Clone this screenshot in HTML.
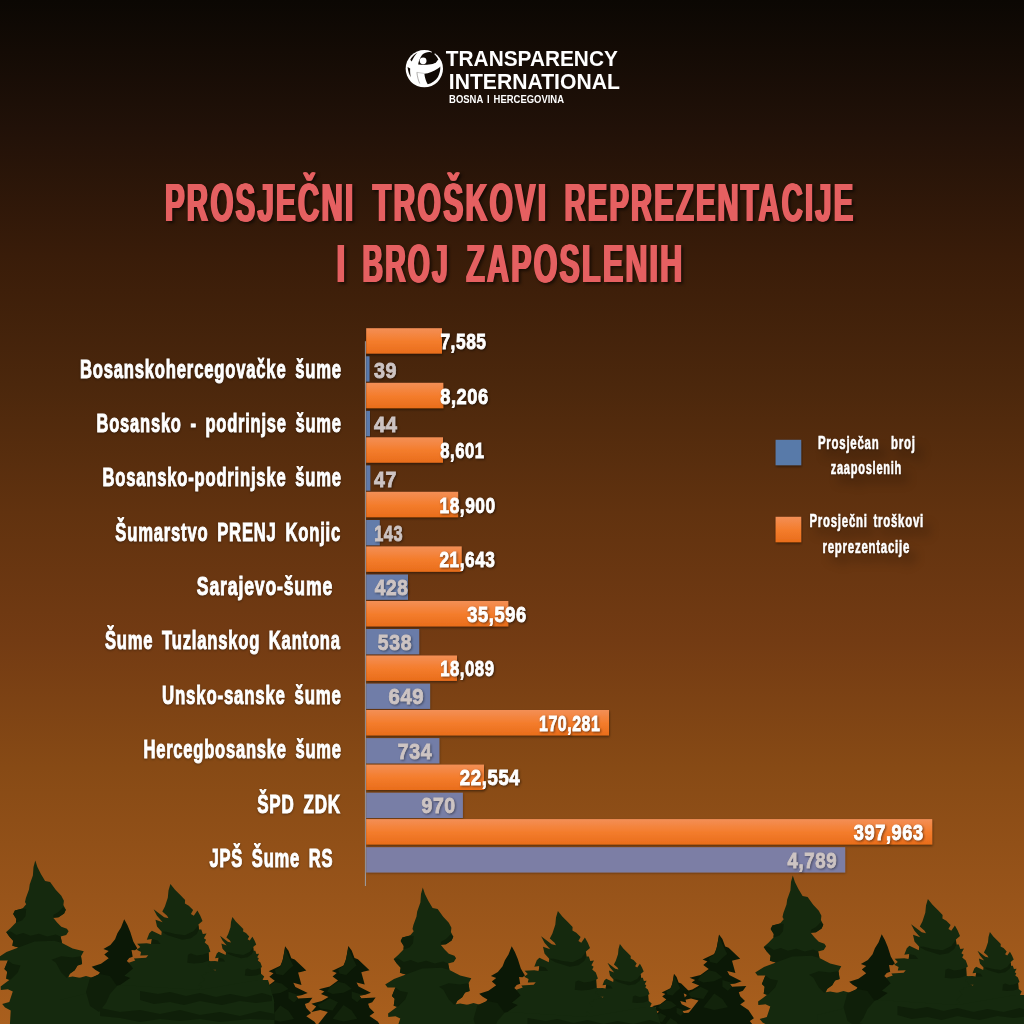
<!DOCTYPE html>
<html lang="bs">
<head>
<meta charset="utf-8">
<title>Prosječni troškovi reprezentacije i broj zaposlenih</title>
<style>
html,body{margin:0;padding:0;background:#0b0703;}
body{width:1024px;height:1024px;overflow:hidden;}
svg{display:block;}
text{font-family:"Liberation Sans",sans-serif;font-weight:bold;white-space:pre;}
.lab{fill:#fff;stroke:#fff;stroke-width:1px;word-spacing:5px;letter-spacing:1.2px;filter:drop-shadow(0.5px 1px 1px rgba(0,0,0,.35));}
.val{fill:#fff;stroke:#fff;stroke-width:.9px;letter-spacing:.7px;filter:drop-shadow(1px 1.5px 1.2px rgba(0,0,0,.5));}
.gval{fill:#cdc4c3;stroke:#cdc4c3;stroke-width:.9px;letter-spacing:.7px;filter:drop-shadow(1px 1.5px 1.2px rgba(0,0,0,.4));}
.leg{fill:#fff;stroke:#fff;stroke-width:.6px;letter-spacing:1.2px;word-spacing:3px;filter:drop-shadow(0.5px 1px 1px rgba(0,0,0,.3)) drop-shadow(7px 9px 5px rgba(0,0,0,.22));}
.title{--c:#e56061;--sh:drop-shadow(2px 2px 1.5px rgba(0,0,0,.55));letter-spacing:4px;fill:var(--c);filter:drop-shadow(1px 0 0 var(--c)) drop-shadow(-1px 0 0 var(--c)) var(--sh);}
.logo{fill:#fff;stroke-width:0;}
.logo2{fill:#fff;stroke-width:0;word-spacing:1.5px;}
</style>
</head>
<body>
<svg width="1024" height="1024" viewBox="0 0 1024 1024">
<defs>
<linearGradient id="bg" x1="0" y1="0" x2="0" y2="1">
<stop offset="0" stop-color="#0b0703"/>
<stop offset="0.125" stop-color="#211108"/>
<stop offset="0.25" stop-color="#391c09"/>
<stop offset="0.375" stop-color="#4b270c"/>
<stop offset="0.5" stop-color="#61320f"/>
<stop offset="0.625" stop-color="#733b13"/>
<stop offset="0.75" stop-color="#874a15"/>
<stop offset="0.875" stop-color="#98541a"/>
<stop offset="1" stop-color="#a95f1d"/>
</linearGradient>
<linearGradient id="og" x1="0" y1="0" x2="0" y2="1">
<stop offset="0" stop-color="#f38f56"/>
<stop offset="0.5" stop-color="#f47d2d"/>
<stop offset="1" stop-color="#e96d1b"/>
</linearGradient>
<filter id="bsh" x="-5%" y="-30%" width="110%" height="180%"><feDropShadow dx="0.5" dy="1.5" stdDeviation="1.2" flood-color="#000" flood-opacity="0.45"/></filter>
<filter id="bsh2" x="-5%" y="-30%" width="110%" height="180%"><feDropShadow dx="0.5" dy="1" stdDeviation="1" flood-color="#000" flood-opacity="0.3"/></filter>
</defs>
<rect width="1024" height="1024" fill="url(#bg)"/>
<!-- trees -->
<g id="trees">
<polygon fill="#0b1806" points="285.1,946.3 288.5,950.7 291.3,958.2 294.7,959.6 306.3,970.5 300.8,971.9 298.1,972.6 301.5,984.9 293.3,982.8 295.4,986.9 307.7,993.1 302.2,995.1 296.0,995.8 298.1,998.5 312.4,997.8 309.0,1002.6 304.9,1004.0 306.3,1008.1 311.1,1012.9 306.3,1016.3 314.5,1021.8 320.0,1030.0 315.9,1032.7 324.1,1043.6 324.1,1084.7 247.5,1084.7 247.5,1043.6 254.3,1032.7 250.2,1030.0 257.1,1021.8 264.6,1012.2 257.1,1010.2 248.2,1012.2 253.0,1006.7 248.2,1004.0 258.4,1001.3 265.3,997.2 257.8,994.4 261.2,991.7 255.7,989.6 266.6,986.9 274.8,980.8 269.4,976.7 273.5,973.2 268.7,971.2 280.3,965.7 282.4,961.6 283.7,954.8"/>
<polygon fill="#12230b" points="285.1,947.9 288.5,956.1 293.3,965.7 288.5,969.8 283.0,975.3 276.2,973.9 274.8,969.8 280.3,966.4 283.0,958.9"/>
<polygon fill="#12230b" points="274.8,982.1 281.7,983.5 288.5,989.0 280.3,993.1 269.4,994.4 263.9,991.7 266.6,987.6"/>
<polygon fill="#12230b" points="288.5,991.7 296.7,994.4 302.2,995.1 296.0,996.1 298.1,998.5 294.0,1002.6 288.5,998.5"/>
<polygon fill="#12230b" points="266.6,998.5 274.8,1002.6 269.4,1010.8 257.1,1008.8 254.3,1005.4"/>
<polygon fill="#12230b" points="280.3,1005.4 288.5,1010.8 294.0,1019.0 280.3,1021.8 269.4,1019.0"/>
<polygon fill="#0b1806" points="348.3,946.0 351.7,950.4 354.5,957.9 357.9,959.3 369.5,970.2 364.0,971.6 361.3,972.3 364.7,984.6 356.5,982.5 358.6,986.6 370.9,992.8 365.4,994.8 359.2,995.5 361.3,998.2 375.6,997.5 372.2,1002.3 368.1,1003.7 369.5,1007.8 374.3,1012.6 369.5,1016.0 377.7,1021.5 383.2,1029.7 379.1,1032.4 387.3,1043.3 387.3,1084.4 310.7,1084.4 310.7,1043.3 317.5,1032.4 313.4,1029.7 320.3,1021.5 327.8,1011.9 320.3,1009.9 311.4,1011.9 316.2,1006.4 311.4,1003.7 321.6,1001.0 328.5,996.9 321.0,994.1 324.4,991.4 318.9,989.3 329.8,986.6 338.0,980.5 332.6,976.4 336.7,972.9 331.9,970.9 343.5,965.4 345.6,961.3 346.9,954.5"/>
<polygon fill="#12230b" points="348.3,947.6 351.7,955.8 356.5,965.4 351.7,969.5 346.2,975.0 339.4,973.6 338.0,969.5 343.5,966.1 346.2,958.6"/>
<polygon fill="#12230b" points="338.0,981.8 344.9,983.2 351.7,988.7 343.5,992.8 332.6,994.1 327.1,991.4 329.8,987.3"/>
<polygon fill="#12230b" points="351.7,991.4 359.9,994.1 365.4,994.8 359.2,995.8 361.3,998.2 357.2,1002.3 351.7,998.2"/>
<polygon fill="#12230b" points="329.8,998.2 338.0,1002.3 332.6,1010.5 320.3,1008.5 317.5,1005.1"/>
<polygon fill="#12230b" points="343.5,1005.1 351.7,1010.5 357.2,1018.7 343.5,1021.5 332.6,1018.7"/>
<polygon fill="#0b1806" points="674.0,973.7 676.6,977.0 678.6,982.6 681.2,983.6 689.9,991.9 685.8,992.9 683.7,993.4 686.3,1002.6 680.2,1001.1 681.7,1004.2 690.9,1008.8 686.8,1010.3 682.2,1010.8 683.7,1012.9 694.5,1012.4 691.9,1015.9 688.9,1017.0 689.9,1020.0 693.5,1023.6 689.9,1026.2 696.0,1030.3 700.1,1036.5 697.1,1038.5 703.2,1046.7 703.2,1077.5 645.8,1077.5 645.8,1046.7 650.9,1038.5 647.9,1036.5 653.0,1030.3 658.6,1023.1 653.0,1021.6 646.3,1023.1 649.9,1019.0 646.3,1017.0 654.0,1014.9 659.1,1011.8 653.5,1009.8 656.1,1007.7 652.0,1006.2 660.2,1004.2 666.3,999.5 662.2,996.5 665.3,993.9 661.7,992.4 670.4,988.3 671.9,985.2 673.0,980.1"/>
<polygon fill="#12230b" points="674.0,974.9 676.6,981.1 680.2,988.3 676.6,991.3 672.5,995.4 667.3,994.4 666.3,991.3 670.4,988.8 672.5,983.1"/>
<polygon fill="#12230b" points="666.3,1000.6 671.4,1001.6 676.6,1005.7 670.4,1008.8 662.2,1009.8 658.1,1007.7 660.2,1004.7"/>
<polygon fill="#12230b" points="676.6,1007.7 682.7,1009.8 686.8,1010.3 682.2,1011.0 683.7,1012.9 680.7,1015.9 676.6,1012.9"/>
<polygon fill="#12230b" points="660.2,1012.9 666.3,1015.9 662.2,1022.1 653.0,1020.6 650.9,1018.0"/>
<polygon fill="#12230b" points="670.4,1018.0 676.6,1022.1 680.7,1028.3 670.4,1030.3 662.2,1028.3"/>
<polygon fill="#0b1806" points="719.0,934.5 722.4,938.9 725.2,946.4 728.6,947.8 740.2,958.7 734.7,960.1 732.0,960.8 735.4,973.1 727.2,971.0 729.3,975.1 741.6,981.3 736.1,983.3 729.9,984.0 732.0,986.7 746.3,986.0 742.9,990.8 738.8,992.2 740.2,996.3 745.0,1001.1 740.2,1004.5 748.4,1010.0 753.9,1018.2 749.8,1020.9 758.0,1031.8 758.0,1072.9 681.4,1072.9 681.4,1031.8 688.2,1020.9 684.1,1018.2 691.0,1010.0 698.5,1000.4 691.0,998.4 682.1,1000.4 686.9,994.9 682.1,992.2 692.3,989.5 699.2,985.4 691.7,982.6 695.1,979.9 689.6,977.8 700.5,975.1 708.7,969.0 703.3,964.9 707.4,961.4 702.6,959.4 714.2,953.9 716.3,949.8 717.6,943.0"/>
<polygon fill="#12230b" points="719.0,936.1 722.4,944.3 727.2,953.9 722.4,958.0 716.9,963.5 710.1,962.1 708.7,958.0 714.2,954.6 716.9,947.1"/>
<polygon fill="#12230b" points="708.7,970.3 715.6,971.7 722.4,977.2 714.2,981.3 703.3,982.6 697.8,979.9 700.5,975.8"/>
<polygon fill="#12230b" points="722.4,979.9 730.6,982.6 736.1,983.3 729.9,984.3 732.0,986.7 727.9,990.8 722.4,986.7"/>
<polygon fill="#12230b" points="700.5,986.7 708.7,990.8 703.3,999.0 691.0,997.0 688.2,993.6"/>
<polygon fill="#12230b" points="714.2,993.6 722.4,999.0 727.9,1007.2 714.2,1010.0 703.3,1007.2"/>
<polygon fill="#0b1806" points="124.2,919.2 127.4,925.1 130.3,932.1 133.3,941.5 137.4,948.5 135.0,950.3 131.5,950.0 132.7,956.8 129.2,957.9 126.8,960.9 131.5,965.0 135.0,968.5 137.4,976.7 142.1,986.1 142.1,1021.2 89.3,1021.2 89.3,979.6 98.7,974.3 99.9,972.6 95.2,969.7 91.7,966.7 101.0,963.8 108.7,958.2 104.3,954.4 108.7,950.9 103.4,949.1 110.4,945.0 115.1,939.2 117.4,933.3 121.0,927.4"/>
<polygon fill="#15290e" points="70.0,1010.0 72.0,980.0 86.0,976.0 100.0,980.0 99.0,975.0 110.0,985.0 125.0,1000.0 140.0,1030.0 70.0,1030.0"/>
<polygon fill="#15290e" points="35.3,860.6 37.4,866.9 40.9,874.0 45.1,881.0 50.1,882.1 55.7,889.7 61.3,895.8 63.9,900.7 63.4,904.9 65.8,909.8 64.1,913.6 58.5,917.3 53.2,917.8 57.1,922.5 61.3,926.7 66.9,928.8 68.6,931.3 66.2,935.1 60.6,936.5 62.0,942.9 72.6,948.5 83.8,951.3 81.0,956.2 82.1,964.0 77.5,965.4 74.7,970.3 69.8,973.8 68.4,977.3 72.6,976.4 81.0,978.0 89.4,980.1 92.3,987.9 95.1,1007.6 95.1,1035.7 9.3,1035.7 10.7,1010.4 5.1,1007.6 2.2,1004.1 9.3,1002.0 12.8,991.4 7.9,989.3 0.8,990.0 0.6,986.5 9.3,980.1 6.2,978.7 7.2,971.7 4.4,968.9 7.9,960.5 0.1,960.5 -2.3,957.6 6.5,952.0 18.4,947.4 12.4,945.7 13.2,940.8 9.3,936.5 6.2,931.9 10.7,928.1 16.0,922.5 16.3,919.0 13.2,914.0 14.9,910.5 22.6,908.4 26.2,904.2 25.0,902.1 25.9,897.9 29.0,889.4 29.7,884.5 32.9,875.4 33.5,866.9"/>
<polygon fill="#0f1f09" points="14.9,910.5 22.6,908.4 26.2,909.1 25.5,916.2 21.9,920.4 16.0,922.5 16.3,919.0 13.2,914.0"/>
<polygon fill="#0f1f09" points="53.2,917.8 58.5,917.3 64.1,913.6 65.8,909.8 63.4,907.0 58.5,911.9 53.6,914.7"/>
<polygon fill="#0f1f09" points="6.2,931.9 10.7,931.6 16.3,935.1 23.3,933.0 30.4,935.8 38.8,933.7 47.3,936.5 55.7,934.4 60.6,936.5 62.0,942.9 54.3,940.8 34.6,941.5 18.4,947.4 12.4,945.7 13.2,940.8 9.3,936.5"/>
<polygon fill="#0f1f09" points="51.5,959.8 61.3,956.2 72.6,957.6 81.0,956.2 82.1,964.0 77.5,965.4 74.7,970.3 69.8,973.8 66.9,978.0 61.3,972.4 55.7,962.6"/>
<polygon fill="#0f1f09" points="4.4,968.9 7.9,960.5 12.8,964.0 20.5,965.4 17.7,972.4 10.7,979.4 6.2,978.7 7.2,971.7"/>
<polygon fill="#15290e" points="170.4,884.0 175.0,889.8 180.8,895.6 185.1,899.9 184.9,903.5 188.8,905.7 193.1,910.0 190.9,913.9 193.8,915.8 197.4,910.5 200.3,915.8 202.5,920.9 198.4,924.5 198.9,929.5 201.3,929.5 202.8,933.9 206.5,933.6 203.9,938.2 206.1,939.7 204.7,942.6 208.3,945.4 210.4,951.5 208.6,952.7 209.0,960.6 213.3,964.2 211.2,968.6 219.8,972.9 225.6,1020.6 225.6,1078.4 115.8,1078.4 115.8,1020.6 118.6,985.9 130.2,978.0 124.4,975.8 133.1,968.6 128.8,962.8 135.3,960.6 133.8,958.5 146.1,957.7 148.3,955.3 140.3,955.6 141.1,951.9 136.7,949.8 140.3,946.9 137.1,943.7 146.8,943.3 151.2,944.0 151.9,938.9 146.8,939.7 149.3,933.2 151.9,930.7 161.3,935.3 161.7,931.7 157.0,926.6 155.5,919.7 162.7,922.3 157.0,915.8 153.6,909.3 164.2,917.3 168.5,918.3 167.1,915.8 162.3,911.5 164.9,906.4 167.8,897.7 168.5,890.5"/>
<polygon fill="#0f1f09" points="161.7,931.7 167.8,935.3 175.0,937.5 182.3,939.7 190.9,938.2 196.7,933.9 198.9,929.5 198.4,925.2 193.8,931.0 185.1,935.3 175.0,933.9 166.4,931.7"/>
<polygon fill="#0f1f09" points="188.0,954.8 190.9,953.4 196.7,955.6 202.5,954.8 208.6,952.7 209.0,960.6 202.5,962.8 193.8,963.5 187.3,962.8"/>
<polygon fill="#0f1f09" points="151.9,938.9 157.7,940.4 160.6,944.0 151.2,944.0"/>
<polygon fill="#0f1f09" points="144.7,991.7 157.7,993.9 170.7,992.4 179.4,991.7 185.1,996.0 196.7,998.9 199.6,1001.8 185.1,1001.1 172.1,998.9 157.7,1000.4 144.7,998.9"/>
<polygon fill="#15290e" points="232.4,917.1 235.8,921.4 240.1,925.7 243.3,928.9 243.1,931.5 246.0,933.1 249.2,936.4 247.6,939.2 249.7,940.6 252.4,936.7 254.5,940.6 256.2,944.4 253.2,947.1 253.5,950.8 255.3,950.8 256.4,954.0 259.1,953.8 257.2,957.2 258.8,958.3 257.8,960.4 260.4,962.6 262.0,967.1 260.6,967.9 261.0,973.8 264.2,976.5 262.6,979.7 269.0,982.9 273.3,1018.2 273.3,1061.0 192.0,1061.0 192.0,1018.2 194.1,992.5 202.7,986.6 198.4,985.0 204.8,979.7 201.6,975.4 206.4,973.8 205.3,972.2 214.4,971.7 216.0,969.8 210.1,970.1 210.7,967.4 207.5,965.8 210.1,963.6 207.8,961.3 215.0,961.0 218.2,961.5 218.7,957.8 215.0,958.3 216.8,953.5 218.7,951.7 225.7,955.1 226.0,952.4 222.5,948.7 221.4,943.5 226.7,945.5 222.5,940.6 220.0,935.8 227.8,941.7 231.0,942.5 229.9,940.6 226.4,937.4 228.3,933.7 230.5,927.3 231.0,921.9"/>
<polygon fill="#0f1f09" points="226.0,952.4 230.5,955.1 235.8,956.7 241.2,958.3 247.6,957.2 251.9,954.0 253.5,950.8 253.2,947.6 249.7,951.9 243.3,955.1 235.8,954.0 229.4,952.4"/>
<polygon fill="#0f1f09" points="245.5,969.5 247.6,968.5 251.9,970.1 256.2,969.5 260.6,967.9 261.0,973.8 256.2,975.4 249.7,975.9 244.9,975.4"/>
<polygon fill="#0f1f09" points="218.7,957.8 223.0,958.8 225.1,961.5 218.2,961.5"/>
<polygon fill="#15290e" points="60.0,1000.0 120.0,985.0 200.0,990.0 258.0,980.0 268.0,980.0 274.0,1000.0 276.0,1100.0 60.0,1100.0"/>
<polygon fill="#0f1f09" points="140.0,991.0 158.0,994.0 170.0,992.0 186.0,996.0 200.0,993.0 216.0,997.0 230.0,994.0 246.0,997.0 262.0,993.0 272.0,996.0 272.0,1001.0 256.0,1003.0 240.0,1001.0 222.0,1005.0 200.0,1001.0 184.0,1005.0 170.0,1002.0 154.0,1004.0 140.0,1000.0"/>
<polygon fill="#0f1f09" points="100.0,1008.0 120.0,1012.0 140.0,1010.0 160.0,1014.0 180.0,1010.0 200.0,1015.0 220.0,1012.0 240.0,1016.0 260.0,1011.0 275.0,1014.0 275.0,1020.0 250.0,1019.0 220.0,1022.0 200.0,1019.0 180.0,1021.0 160.0,1019.0 140.0,1022.0 120.0,1018.0 100.0,1016.0"/>
<polygon fill="#0f1f09" points="90.0,978.0 100.0,974.0 110.0,976.0 117.0,986.0 110.0,994.0 106.0,1003.0 99.0,1012.0 90.0,1006.0 86.0,992.0"/>
<polygon fill="#0b1806" points="511.7,946.2 514.9,952.1 517.8,959.1 520.8,968.5 524.9,975.5 522.5,977.3 519.0,977.0 520.2,983.8 516.7,984.9 514.3,987.9 519.0,992.0 522.5,995.5 524.9,1003.7 529.6,1013.1 529.6,1048.2 476.8,1048.2 476.8,1006.6 486.2,1001.3 487.4,999.6 482.7,996.7 479.2,993.7 488.5,990.8 496.2,985.2 491.8,981.4 496.2,977.9 490.9,976.1 497.9,972.0 502.6,966.2 504.9,960.3 508.5,954.4"/>
<polygon fill="#15290e" points="457.5,1037.0 459.5,1007.0 473.5,1003.0 487.5,1007.0 486.5,1002.0 497.5,1012.0 512.5,1027.0 527.5,1057.0 457.5,1057.0"/>
<polygon fill="#15290e" points="422.8,887.6 424.9,893.9 428.4,901.0 432.6,908.0 437.6,909.1 443.2,916.7 448.8,922.8 451.4,927.7 450.9,931.9 453.3,936.8 451.6,940.6 446.0,944.3 440.7,944.8 444.6,949.5 448.8,953.7 454.4,955.8 456.1,958.3 453.7,962.1 448.1,963.5 449.5,969.9 460.1,975.5 471.3,978.3 468.5,983.2 469.6,991.0 465.0,992.4 462.2,997.3 457.3,1000.8 455.9,1004.3 460.1,1003.4 468.5,1005.0 476.9,1007.1 479.8,1014.9 482.6,1034.6 482.6,1062.7 396.8,1062.7 398.2,1037.4 392.6,1034.6 389.7,1031.1 396.8,1029.0 400.3,1018.4 395.4,1016.3 388.3,1017.0 388.1,1013.5 396.8,1007.1 393.7,1005.7 394.7,998.7 391.9,995.9 395.4,987.5 387.6,987.5 385.2,984.6 394.0,979.0 405.9,974.4 399.9,972.7 400.7,967.8 396.8,963.5 393.7,958.9 398.2,955.1 403.5,949.5 403.8,946.0 400.7,941.0 402.4,937.5 410.1,935.4 413.7,931.2 412.5,929.1 413.4,924.9 416.5,916.4 417.2,911.5 420.4,902.4 421.0,893.9"/>
<polygon fill="#0f1f09" points="402.4,937.5 410.1,935.4 413.7,936.1 413.0,943.2 409.4,947.4 403.5,949.5 403.8,946.0 400.7,941.0"/>
<polygon fill="#0f1f09" points="440.7,944.8 446.0,944.3 451.6,940.6 453.3,936.8 450.9,934.0 446.0,938.9 441.1,941.7"/>
<polygon fill="#0f1f09" points="393.7,958.9 398.2,958.6 403.8,962.1 410.8,960.0 417.9,962.8 426.3,960.7 434.8,963.5 443.2,961.4 448.1,963.5 449.5,969.9 441.8,967.8 422.1,968.5 405.9,974.4 399.9,972.7 400.7,967.8 396.8,963.5"/>
<polygon fill="#0f1f09" points="439.0,986.8 448.8,983.2 460.1,984.6 468.5,983.2 469.6,991.0 465.0,992.4 462.2,997.3 457.3,1000.8 454.4,1005.0 448.8,999.4 443.2,989.6"/>
<polygon fill="#0f1f09" points="391.9,995.9 395.4,987.5 400.3,991.0 408.0,992.4 405.2,999.4 398.2,1006.4 393.7,1005.7 394.7,998.7"/>
<polygon fill="#15290e" points="557.9,911.0 562.5,916.8 568.3,922.6 572.6,926.9 572.4,930.5 576.3,932.7 580.6,937.0 578.4,940.9 581.3,942.8 584.9,937.5 587.8,942.8 590.0,947.9 585.9,951.5 586.4,956.5 588.8,956.5 590.3,960.9 594.0,960.6 591.4,965.2 593.6,966.7 592.2,969.6 595.8,972.4 597.9,978.5 596.1,979.7 596.5,987.6 600.8,991.2 598.7,995.6 607.3,999.9 613.1,1047.6 613.1,1105.4 503.3,1105.4 503.3,1047.6 506.1,1012.9 517.7,1005.0 511.9,1002.8 520.6,995.6 516.3,989.8 522.8,987.6 521.3,985.5 533.6,984.7 535.8,982.3 527.8,982.6 528.6,978.9 524.2,976.8 527.8,973.9 524.6,970.7 534.3,970.3 538.7,971.0 539.4,965.9 534.3,966.7 536.8,960.2 539.4,957.7 548.8,962.3 549.2,958.7 544.5,953.6 543.0,946.7 550.2,949.3 544.5,942.8 541.1,936.3 551.7,944.3 556.0,945.3 554.6,942.8 549.8,938.5 552.4,933.4 555.3,924.7 556.0,917.5"/>
<polygon fill="#0f1f09" points="549.2,958.7 555.3,962.3 562.5,964.5 569.8,966.7 578.4,965.2 584.2,960.9 586.4,956.5 585.9,952.2 581.3,958.0 572.6,962.3 562.5,960.9 553.9,958.7"/>
<polygon fill="#0f1f09" points="575.5,981.8 578.4,980.4 584.2,982.6 590.0,981.8 596.1,979.7 596.5,987.6 590.0,989.8 581.3,990.5 574.8,989.8"/>
<polygon fill="#0f1f09" points="539.4,965.9 545.2,967.4 548.1,971.0 538.7,971.0"/>
<polygon fill="#0f1f09" points="532.2,1018.7 545.2,1020.9 558.2,1019.4 566.9,1018.7 572.6,1023.0 584.2,1025.9 587.1,1028.8 572.6,1028.1 559.6,1025.9 545.2,1027.4 532.2,1025.9"/>
<polygon fill="#15290e" points="619.9,944.1 623.3,948.4 627.6,952.7 630.8,955.9 630.6,958.5 633.5,960.1 636.7,963.4 635.1,966.2 637.2,967.6 639.9,963.7 642.0,967.6 643.7,971.4 640.7,974.1 641.0,977.8 642.8,977.8 643.9,981.0 646.6,980.8 644.7,984.2 646.3,985.3 645.3,987.4 647.9,989.6 649.5,994.1 648.1,994.9 648.5,1000.8 651.7,1003.5 650.1,1006.7 656.5,1009.9 660.8,1045.2 660.8,1088.0 579.5,1088.0 579.5,1045.2 581.6,1019.5 590.2,1013.6 585.9,1012.0 592.3,1006.7 589.1,1002.4 593.9,1000.8 592.8,999.2 601.9,998.7 603.5,996.8 597.6,997.1 598.2,994.4 595.0,992.8 597.6,990.6 595.3,988.3 602.5,988.0 605.7,988.5 606.2,984.8 602.5,985.3 604.3,980.5 606.2,978.7 613.2,982.1 613.5,979.4 610.0,975.7 608.9,970.5 614.2,972.5 610.0,967.6 607.5,962.8 615.3,968.7 618.5,969.5 617.4,967.6 613.9,964.4 615.8,960.7 618.0,954.3 618.5,948.9"/>
<polygon fill="#0f1f09" points="613.5,979.4 618.0,982.1 623.3,983.7 628.7,985.3 635.1,984.2 639.4,981.0 641.0,977.8 640.7,974.6 637.2,978.9 630.8,982.1 623.3,981.0 616.9,979.4"/>
<polygon fill="#0f1f09" points="633.0,996.5 635.1,995.5 639.4,997.1 643.7,996.5 648.1,994.9 648.5,1000.8 643.7,1002.4 637.2,1002.9 632.4,1002.4"/>
<polygon fill="#0f1f09" points="606.2,984.8 610.5,985.8 612.6,988.5 605.7,988.5"/>
<polygon fill="#15290e" points="447.5,1027.0 507.5,1012.0 587.5,1017.0 645.5,1007.0 655.5,1007.0 661.5,1027.0 663.5,1127.0 447.5,1127.0"/>
<polygon fill="#0f1f09" points="527.5,1018.0 545.5,1021.0 557.5,1019.0 573.5,1023.0 587.5,1020.0 603.5,1024.0 617.5,1021.0 633.5,1024.0 649.5,1020.0 659.5,1023.0 659.5,1028.0 643.5,1030.0 627.5,1028.0 609.5,1032.0 587.5,1028.0 571.5,1032.0 557.5,1029.0 541.5,1031.0 527.5,1027.0"/>
<polygon fill="#0f1f09" points="487.5,1035.0 507.5,1039.0 527.5,1037.0 547.5,1041.0 567.5,1037.0 587.5,1042.0 607.5,1039.0 627.5,1043.0 647.5,1038.0 662.5,1041.0 662.5,1047.0 637.5,1046.0 607.5,1049.0 587.5,1046.0 567.5,1048.0 547.5,1046.0 527.5,1049.0 507.5,1045.0 487.5,1043.0"/>
<polygon fill="#0f1f09" points="477.5,1005.0 487.5,1001.0 497.5,1003.0 504.5,1013.0 497.5,1021.0 493.5,1030.0 486.5,1039.0 477.5,1033.0 473.5,1019.0"/>
<polygon fill="#0b1806" points="881.7,934.2 884.9,940.1 887.8,947.1 890.8,956.5 894.9,963.5 892.5,965.3 889.0,965.0 890.2,971.8 886.7,972.9 884.3,975.9 889.0,980.0 892.5,983.5 894.9,991.7 899.6,1001.1 899.6,1036.2 846.8,1036.2 846.8,994.6 856.2,989.3 857.4,987.6 852.7,984.7 849.2,981.7 858.5,978.8 866.2,973.2 861.8,969.4 866.2,965.9 860.9,964.1 867.9,960.0 872.6,954.2 874.9,948.3 878.5,942.4"/>
<polygon fill="#15290e" points="827.5,1025.0 829.5,995.0 843.5,991.0 857.5,995.0 856.5,990.0 867.5,1000.0 882.5,1015.0 897.5,1045.0 827.5,1045.0"/>
<polygon fill="#15290e" points="792.8,875.6 794.9,881.9 798.4,889.0 802.6,896.0 807.6,897.1 813.2,904.7 818.8,910.8 821.4,915.7 820.9,919.9 823.3,924.8 821.6,928.6 816.0,932.3 810.7,932.8 814.6,937.5 818.8,941.7 824.4,943.8 826.1,946.3 823.7,950.1 818.1,951.5 819.5,957.9 830.1,963.5 841.3,966.3 838.5,971.2 839.6,979.0 835.0,980.4 832.2,985.3 827.3,988.8 825.9,992.3 830.1,991.4 838.5,993.0 846.9,995.1 849.8,1002.9 852.6,1022.6 852.6,1050.7 766.8,1050.7 768.2,1025.4 762.6,1022.6 759.7,1019.1 766.8,1017.0 770.3,1006.4 765.4,1004.3 758.3,1005.0 758.1,1001.5 766.8,995.1 763.7,993.7 764.7,986.7 761.9,983.9 765.4,975.5 757.6,975.5 755.2,972.6 764.0,967.0 775.9,962.4 769.9,960.7 770.7,955.8 766.8,951.5 763.7,946.9 768.2,943.1 773.5,937.5 773.8,934.0 770.7,929.0 772.4,925.5 780.1,923.4 783.7,919.2 782.5,917.1 783.4,912.9 786.5,904.4 787.2,899.5 790.4,890.4 791.0,881.9"/>
<polygon fill="#0f1f09" points="772.4,925.5 780.1,923.4 783.7,924.1 783.0,931.2 779.4,935.4 773.5,937.5 773.8,934.0 770.7,929.0"/>
<polygon fill="#0f1f09" points="810.7,932.8 816.0,932.3 821.6,928.6 823.3,924.8 820.9,922.0 816.0,926.9 811.1,929.7"/>
<polygon fill="#0f1f09" points="763.7,946.9 768.2,946.6 773.8,950.1 780.8,948.0 787.9,950.8 796.3,948.7 804.8,951.5 813.2,949.4 818.1,951.5 819.5,957.9 811.8,955.8 792.1,956.5 775.9,962.4 769.9,960.7 770.7,955.8 766.8,951.5"/>
<polygon fill="#0f1f09" points="809.0,974.8 818.8,971.2 830.1,972.6 838.5,971.2 839.6,979.0 835.0,980.4 832.2,985.3 827.3,988.8 824.4,993.0 818.8,987.4 813.2,977.6"/>
<polygon fill="#0f1f09" points="761.9,983.9 765.4,975.5 770.3,979.0 778.0,980.4 775.2,987.4 768.2,994.4 763.7,993.7 764.7,986.7"/>
<polygon fill="#15290e" points="927.9,899.0 932.5,904.8 938.3,910.6 942.6,914.9 942.4,918.5 946.3,920.7 950.6,925.0 948.4,928.9 951.3,930.8 954.9,925.5 957.8,930.8 960.0,935.9 955.9,939.5 956.4,944.5 958.8,944.5 960.3,948.9 964.0,948.6 961.4,953.2 963.6,954.7 962.2,957.6 965.8,960.4 967.9,966.5 966.1,967.7 966.5,975.6 970.8,979.2 968.7,983.6 977.3,987.9 983.1,1035.6 983.1,1093.4 873.3,1093.4 873.3,1035.6 876.1,1000.9 887.7,993.0 881.9,990.8 890.6,983.6 886.3,977.8 892.8,975.6 891.3,973.5 903.6,972.7 905.8,970.3 897.8,970.6 898.6,966.9 894.2,964.8 897.8,961.9 894.6,958.7 904.3,958.3 908.7,959.0 909.4,953.9 904.3,954.7 906.8,948.2 909.4,945.7 918.8,950.3 919.2,946.7 914.5,941.6 913.0,934.7 920.2,937.3 914.5,930.8 911.1,924.3 921.7,932.3 926.0,933.3 924.6,930.8 919.8,926.5 922.4,921.4 925.3,912.7 926.0,905.5"/>
<polygon fill="#0f1f09" points="919.2,946.7 925.3,950.3 932.5,952.5 939.8,954.7 948.4,953.2 954.2,948.9 956.4,944.5 955.9,940.2 951.3,946.0 942.6,950.3 932.5,948.9 923.9,946.7"/>
<polygon fill="#0f1f09" points="945.5,969.8 948.4,968.4 954.2,970.6 960.0,969.8 966.1,967.7 966.5,975.6 960.0,977.8 951.3,978.5 944.8,977.8"/>
<polygon fill="#0f1f09" points="909.4,953.9 915.2,955.4 918.1,959.0 908.7,959.0"/>
<polygon fill="#0f1f09" points="902.2,1006.7 915.2,1008.9 928.2,1007.4 936.9,1006.7 942.6,1011.0 954.2,1013.9 957.1,1016.8 942.6,1016.1 929.6,1013.9 915.2,1015.4 902.2,1013.9"/>
<polygon fill="#15290e" points="989.9,932.1 993.3,936.4 997.6,940.7 1000.8,943.9 1000.6,946.5 1003.5,948.1 1006.7,951.4 1005.1,954.2 1007.2,955.6 1009.9,951.7 1012.0,955.6 1013.7,959.4 1010.7,962.1 1011.0,965.8 1012.8,965.8 1013.9,969.0 1016.6,968.8 1014.7,972.2 1016.3,973.3 1015.3,975.4 1017.9,977.6 1019.5,982.1 1018.1,982.9 1018.5,988.8 1021.7,991.5 1020.1,994.7 1026.5,997.9 1030.8,1033.2 1030.8,1076.0 949.5,1076.0 949.5,1033.2 951.6,1007.5 960.2,1001.6 955.9,1000.0 962.3,994.7 959.1,990.4 963.9,988.8 962.8,987.2 971.9,986.7 973.5,984.8 967.6,985.1 968.2,982.4 965.0,980.8 967.6,978.6 965.3,976.3 972.5,976.0 975.7,976.5 976.2,972.8 972.5,973.3 974.3,968.5 976.2,966.7 983.2,970.1 983.5,967.4 980.0,963.7 978.9,958.5 984.2,960.5 980.0,955.6 977.5,950.8 985.3,956.7 988.5,957.5 987.4,955.6 983.9,952.4 985.8,948.7 988.0,942.3 988.5,936.9"/>
<polygon fill="#0f1f09" points="983.5,967.4 988.0,970.1 993.3,971.7 998.7,973.3 1005.1,972.2 1009.4,969.0 1011.0,965.8 1010.7,962.6 1007.2,966.9 1000.8,970.1 993.3,969.0 986.9,967.4"/>
<polygon fill="#0f1f09" points="1003.0,984.5 1005.1,983.5 1009.4,985.1 1013.7,984.5 1018.1,982.9 1018.5,988.8 1013.7,990.4 1007.2,990.9 1002.4,990.4"/>
<polygon fill="#0f1f09" points="976.2,972.8 980.5,973.8 982.6,976.5 975.7,976.5"/>
<polygon fill="#15290e" points="817.5,1015.0 877.5,1000.0 957.5,1005.0 1015.5,995.0 1025.5,995.0 1031.5,1015.0 1033.5,1115.0 817.5,1115.0"/>
<polygon fill="#0f1f09" points="897.5,1006.0 915.5,1009.0 927.5,1007.0 943.5,1011.0 957.5,1008.0 973.5,1012.0 987.5,1009.0 1003.5,1012.0 1019.5,1008.0 1029.5,1011.0 1029.5,1016.0 1013.5,1018.0 997.5,1016.0 979.5,1020.0 957.5,1016.0 941.5,1020.0 927.5,1017.0 911.5,1019.0 897.5,1015.0"/>
<polygon fill="#0f1f09" points="857.5,1023.0 877.5,1027.0 897.5,1025.0 917.5,1029.0 937.5,1025.0 957.5,1030.0 977.5,1027.0 997.5,1031.0 1017.5,1026.0 1032.5,1029.0 1032.5,1035.0 1007.5,1034.0 977.5,1037.0 957.5,1034.0 937.5,1036.0 917.5,1034.0 897.5,1037.0 877.5,1033.0 857.5,1031.0"/>
<polygon fill="#0f1f09" points="847.5,993.0 857.5,989.0 867.5,991.0 874.5,1001.0 867.5,1009.0 863.5,1018.0 856.5,1027.0 847.5,1021.0 843.5,1007.0"/>
</g>
<!-- axis -->
<rect x="364.9" y="341.2" width="1.05" height="544.8" fill="#9c9ca0"/>
<!-- bars -->
<g id="bars">
<rect x="366.2" y="328.2" width="75.8" height="25.4" fill="url(#og)" filter="url(#bsh)"/>
<rect x="366.2" y="356.3" width="3.3" height="25.3" fill="#5679ad" filter="url(#bsh2)"/>
<rect x="366.2" y="382.8" width="77.1" height="25.4" fill="url(#og)" filter="url(#bsh)"/>
<rect x="366.2" y="410.9" width="3.8" height="25.3" fill="#5a7aac" filter="url(#bsh2)"/>
<rect x="366.2" y="437.3" width="76.8" height="25.4" fill="url(#og)" filter="url(#bsh)"/>
<rect x="366.2" y="465.4" width="4.1" height="25.3" fill="#5e7aab" filter="url(#bsh2)"/>
<rect x="366.2" y="491.8" width="91.9" height="25.4" fill="url(#og)" filter="url(#bsh)"/>
<rect x="366.2" y="520.0" width="13.6" height="25.3" fill="#637baa" filter="url(#bsh2)"/>
<rect x="366.2" y="546.4" width="95.5" height="25.4" fill="url(#og)" filter="url(#bsh)"/>
<rect x="366.2" y="574.5" width="41.8" height="25.3" fill="#677ba9" filter="url(#bsh2)"/>
<rect x="366.2" y="601.0" width="142.1" height="25.4" fill="url(#og)" filter="url(#bsh)"/>
<rect x="366.2" y="629.0" width="53.0" height="25.3" fill="#6b7ca8" filter="url(#bsh2)"/>
<rect x="366.2" y="655.5" width="90.8" height="25.4" fill="url(#og)" filter="url(#bsh)"/>
<rect x="366.2" y="683.6" width="63.9" height="25.3" fill="#6f7da8" filter="url(#bsh2)"/>
<rect x="366.2" y="710.0" width="242.8" height="25.4" fill="url(#og)" filter="url(#bsh)"/>
<rect x="366.2" y="738.1" width="73.2" height="25.3" fill="#737da7" filter="url(#bsh2)"/>
<rect x="366.2" y="764.6" width="117.8" height="25.4" fill="url(#og)" filter="url(#bsh)"/>
<rect x="366.2" y="792.7" width="96.7" height="25.3" fill="#787ea6" filter="url(#bsh2)"/>
<rect x="366.2" y="819.1" width="566.0" height="25.4" fill="url(#og)" filter="url(#bsh)"/>
<rect x="366.2" y="847.2" width="479.0" height="25.3" fill="#7c7ea5" filter="url(#bsh2)"/>
</g>
<!-- legend -->
<rect x="775.6" y="439.8" width="25.6" height="25.4" fill="#587aa9" filter="url(#bsh)"/>
<rect x="775.6" y="516.8" width="25.6" height="25.4" fill="url(#og)" filter="url(#bsh)"/>
<!-- logo -->
<g id="logo">
<g transform="translate(402,46) scale(0.044922)">
<circle cx="497" cy="505" r="416" fill="#fff"/>
<path d="M360 410 C370 340 395 270 450 195 C500 150 560 128 620 132 C650 136 668 146 690 160 L720 182 C760 215 790 255 802 295 C790 340 740 385 680 402 C600 422 470 425 360 410 Z" fill="#100904"/>
<path d="M660 100 L700 120 L735 172 L700 190 L665 158 Z" fill="#100904"/>
<path d="M498 618 C600 605 700 565 800 500 C825 482 842 468 852 455 C858 520 840 610 800 690 C750 770 670 825 572 852 C535 790 505 700 498 618 Z" fill="#100904"/>
<path d="M183 305 C215 240 280 180 345 148 C300 190 255 250 215 345 Z" fill="#100904"/>
<path d="M124 468 L182 502 C176 570 184 640 198 695 C165 650 132 560 124 468 Z" fill="#100904"/>
<path d="M332 588 C340 680 365 770 395 835" stroke="#100904" stroke-width="10" fill="none" opacity=".75"/>
<path d="M330 586 L500 612" stroke="#100904" stroke-width="8" fill="none" opacity=".6"/>
<circle cx="470" cy="330" r="76" fill="#fff"/>
</g>
</g>
<g id="texts">
<text id="t0" class="lab" x="79.91" y="377.50" font-size="25.0" textLength="261.96" lengthAdjust="spacingAndGlyphs">Bosanskohercegovačke šume</text>
<text id="t1" class="lab" x="96.50" y="431.70" font-size="25.0" textLength="245.28" lengthAdjust="spacingAndGlyphs">Bosansko - podrinjse šume</text>
<text id="t2" class="lab" x="102.44" y="485.60" font-size="25.0" textLength="239.34" lengthAdjust="spacingAndGlyphs">Bosansko-podrinjske šume</text>
<text id="t3" class="lab" x="115.28" y="540.70" font-size="25.0" textLength="225.78" lengthAdjust="spacingAndGlyphs">Šumarstvo PRENJ Konjic</text>
<text id="t4" class="lab" x="196.84" y="594.50" font-size="25.0" textLength="136.29" lengthAdjust="spacingAndGlyphs">Sarajevo-šume</text>
<text id="t5" class="lab" x="105.00" y="649.00" font-size="25.0" textLength="235.79" lengthAdjust="spacingAndGlyphs">Šume Tuzlanskog Kantona</text>
<text id="t6" class="lab" x="162.10" y="703.70" font-size="25.0" textLength="179.59" lengthAdjust="spacingAndGlyphs">Unsko-sanske šume</text>
<text id="t7" class="lab" x="143.44" y="757.90" font-size="25.0" textLength="198.34" lengthAdjust="spacingAndGlyphs">Hercegbosanske šume</text>
<text id="t8" class="lab" x="257.21" y="812.60" font-size="25.0" textLength="83.76" lengthAdjust="spacingAndGlyphs">ŠPD ZDK</text>
<text id="t9" class="lab" x="209.50" y="866.50" font-size="25.0" textLength="123.85" lengthAdjust="spacingAndGlyphs">JPŠ Šume RS</text>
<text id="t10" class="val" x="440.42" y="349.40" font-size="22.8" textLength="46.12" lengthAdjust="spacingAndGlyphs">7,585</text>
<text id="t11" class="val" x="440.21" y="404.10" font-size="22.8" textLength="48.58" lengthAdjust="spacingAndGlyphs">8,206</text>
<text id="t12" class="val" x="440.21" y="458.45" font-size="22.8" textLength="44.42" lengthAdjust="spacingAndGlyphs">8,601</text>
<text id="t13" class="val" x="439.48" y="513.40" font-size="22.8" textLength="56.24" lengthAdjust="spacingAndGlyphs">18,900</text>
<text id="t14" class="val" x="439.44" y="567.40" font-size="22.8" textLength="56.04" lengthAdjust="spacingAndGlyphs">21,643</text>
<text id="t15" class="val" x="467.28" y="621.50" font-size="22.8" textLength="59.37" lengthAdjust="spacingAndGlyphs">35,596</text>
<text id="t16" class="val" x="440.16" y="676.30" font-size="22.8" textLength="54.38" lengthAdjust="spacingAndGlyphs">18,089</text>
<text id="t17" class="val" x="539.10" y="731.20" font-size="22.8" textLength="61.28" lengthAdjust="spacingAndGlyphs">170,281</text>
<text id="t18" class="val" x="459.84" y="785.40" font-size="22.8" textLength="60.44" lengthAdjust="spacingAndGlyphs">22,554</text>
<text id="t19" class="val" x="853.86" y="840.20" font-size="22.8" textLength="69.90" lengthAdjust="spacingAndGlyphs">397,963</text>
<text id="t20" class="gval" x="373.98" y="378.00" font-size="22.8" textLength="23.15" lengthAdjust="spacingAndGlyphs">39</text>
<text id="t21" class="gval" x="373.98" y="432.40" font-size="22.8" textLength="23.69" lengthAdjust="spacingAndGlyphs">44</text>
<text id="t22" class="gval" x="373.98" y="486.90" font-size="22.8" textLength="22.88" lengthAdjust="spacingAndGlyphs">47</text>
<text id="t23" class="gval" x="374.16" y="541.00" font-size="22.8" textLength="28.85" lengthAdjust="spacingAndGlyphs">143</text>
<text id="t24" class="gval" x="374.79" y="595.20" font-size="22.8" textLength="33.69" lengthAdjust="spacingAndGlyphs">428</text>
<text id="t25" class="gval" x="377.86" y="649.50" font-size="22.8" textLength="34.24" lengthAdjust="spacingAndGlyphs">538</text>
<text id="t26" class="gval" x="388.44" y="704.40" font-size="22.8" textLength="35.85" lengthAdjust="spacingAndGlyphs">649</text>
<text id="t27" class="gval" x="397.72" y="759.10" font-size="22.8" textLength="34.50" lengthAdjust="spacingAndGlyphs">734</text>
<text id="t28" class="gval" x="421.42" y="813.20" font-size="22.8" textLength="34.43" lengthAdjust="spacingAndGlyphs">970</text>
<text id="t29" class="gval" x="787.56" y="867.70" font-size="22.8" textLength="49.60" lengthAdjust="spacingAndGlyphs">4,789</text>
<text id="t30" class="title" x="164.99" y="220.50" font-size="53.0" textLength="190.35" lengthAdjust="spacingAndGlyphs">PROSJEČNI</text>
<text id="t31" class="title" x="372.83" y="220.50" font-size="53.0" textLength="175.51" lengthAdjust="spacingAndGlyphs">TROŠKOVI</text>
<text id="t32" class="title" x="564.62" y="220.50" font-size="53.0" textLength="290.76" lengthAdjust="spacingAndGlyphs">REPREZENTACIJE</text>
<text id="t33" class="title" x="336.44" y="282.00" font-size="53.0" textLength="11.03" lengthAdjust="spacingAndGlyphs">I</text>
<text id="t34" class="title" x="362.48" y="282.00" font-size="53.0" textLength="87.61" lengthAdjust="spacingAndGlyphs">BROJ</text>
<text id="t35" class="title" x="466.17" y="282.00" font-size="53.0" textLength="218.32" lengthAdjust="spacingAndGlyphs">ZAPOSLENIH</text>
<text id="t36" class="leg" x="818.00" y="448.70" font-size="18.0" textLength="97.68" lengthAdjust="spacingAndGlyphs">Prosječan  broj</text>
<text id="t37" class="leg" x="830.72" y="474.40" font-size="18.0" textLength="71.38" lengthAdjust="spacingAndGlyphs">zaaposlenih</text>
<text id="t38" class="leg" x="809.42" y="526.50" font-size="18.0" textLength="114.59" lengthAdjust="spacingAndGlyphs">Prosječni troškovi</text>
<text id="t39" class="leg" x="822.50" y="552.50" font-size="18.0" textLength="87.64" lengthAdjust="spacingAndGlyphs">reprezentacije</text>
<text id="t40" class="logo" x="445.86" y="66.20" font-size="21.8" textLength="171.98" lengthAdjust="spacingAndGlyphs">TRANSPARENCY</text>
<text id="t41" class="logo" x="448.77" y="88.60" font-size="21.8" textLength="171.13" lengthAdjust="spacingAndGlyphs">INTERNATIONAL</text>
<text id="t42" class="logo2" x="449.10" y="103.00" font-size="10.0" textLength="114.90" lengthAdjust="spacingAndGlyphs">BOSNA I HERCEGOVINA</text>
</g>
</svg>
</body>
</html>
